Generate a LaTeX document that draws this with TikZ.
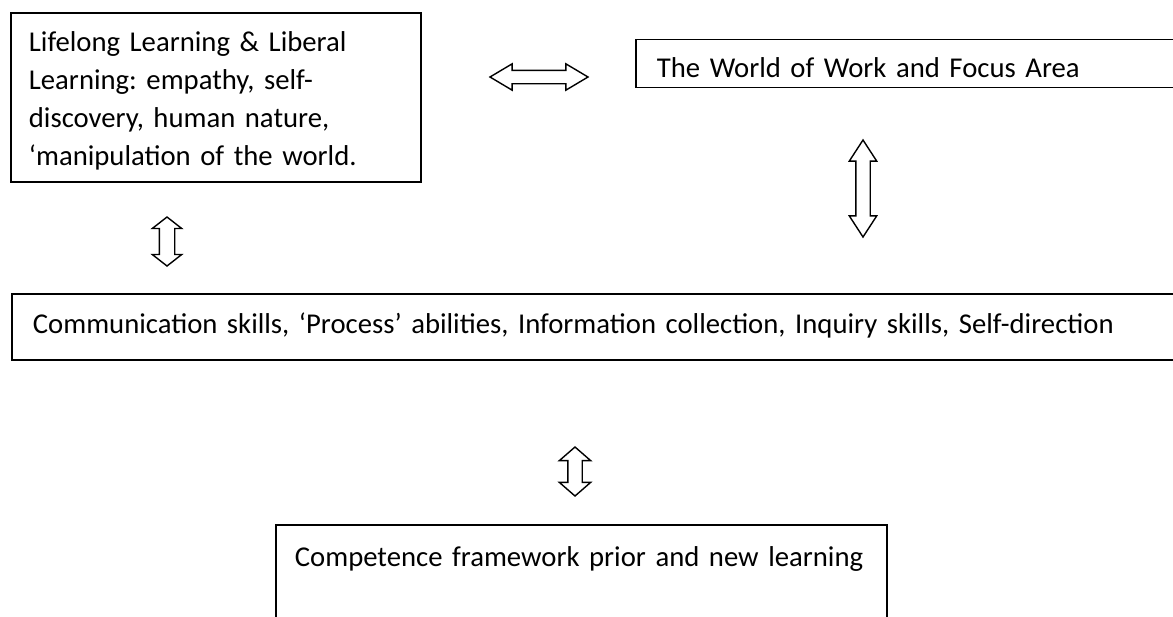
\documentclass[tikz,border=0pt]{standalone}
\usepackage{fontspec}
\setmainfont{Carlito}
\usetikzlibrary{shapes.arrows}

\begin{document}
\begin{tikzpicture}[x=1pt,y=-1pt,font=\fontsize{28.7}{38}\selectfont\frenchspacing,
    box/.style={draw,line width=1.8pt,anchor=north west,align=left,inner ysep=0pt},
    dblarrow/.style={draw,double arrow,fill=white,line width=1.4pt,inner xsep=0pt,double arrow head indent=0pt}]
    \clip (0,0) rectangle (1173,616);
    \fill[white] (0,0) rectangle (1173,616);
    \node[box,inner xsep=18pt,text width=374pt,text height=39pt,text depth=130pt] (liberal) at (10,12)
        {Lifelong Learning \& Liberal\\Learning: empathy, self-\\discovery, human nature,\\‘manipulation of the world.};
    \node[box,inner xsep=21pt,text width=600pt,text height=38.5pt,text depth=9.5pt] (work) at (635,38.5)
        {The World of Work and Focus Area};
    \node[box,inner xsep=21pt,text width=1200pt,text height=40pt,text depth=26pt] (skills) at (11,293)
        {\mbox{Communication skills, ‘Process’ abilities, Information collection, Inquiry skills, Self-direction}};
    \node[box,inner xsep=19pt,text width=573pt,text height=42pt,text depth=120pt] (competence) at (275,524)
        {\mbox{Competence framework prior and new learning}};
    \node[dblarrow,minimum height=98pt,inner ysep=6pt,double arrow head extend=6.5pt,double arrow tip angle=61.5] (liberalwork) at (539,77) {};
    \node[dblarrow,rotate=90,minimum height=97pt,inner ysep=6.5pt,double arrow head extend=6.5pt,double arrow tip angle=66] (workskills) at (863,188.5) {};
    \node[dblarrow,rotate=90,minimum height=49pt,inner ysep=7pt,double arrow head extend=7pt,double arrow tip angle=104] (liberalskills) at (167,241.5) {};
    \node[dblarrow,rotate=90,minimum height=49pt,inner ysep=6.5pt,double arrow head extend=8.5pt,double arrow tip angle=98] (skillscompetence) at (575,471.5) {};
\end{tikzpicture}
\end{document}
